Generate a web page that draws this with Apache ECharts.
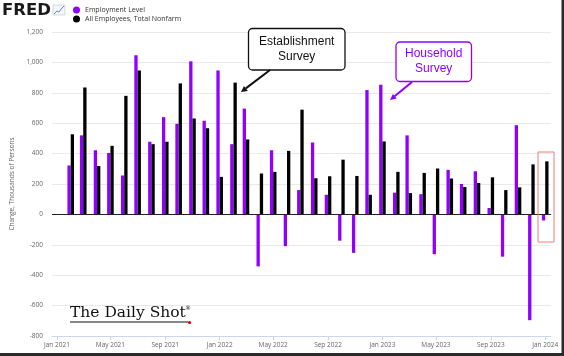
<!DOCTYPE html>
<html><head><meta charset="utf-8">
<script src="https://cdn.jsdelivr.net/npm/echarts@6/dist/echarts.min.js"></script>
<style>html,body{margin:0;padding:0;background:#fff}#c{width:564px;height:356px}</style>
</head><body><div id="c"></div>
<script>
const months = ['2021-02','2021-03','2021-04','2021-05','2021-06','2021-07','2021-08','2021-09','2021-10','2021-11','2021-12',
  '2022-01','2022-02','2022-03','2022-04','2022-05','2022-06','2022-07','2022-08','2022-09','2022-10','2022-11','2022-12',
  '2023-01','2023-02','2023-03','2023-04','2023-05','2023-06','2023-07','2023-08','2023-09','2023-10','2023-11','2023-12',
  '2024-01'];
const employmentLevel = [322,520,422,404,256,1047,478,640,596,1007,616,947,462,696,-342,422,-209,160,473,129,-173,-253,818,853,143,520,133,-262,293,200,284,42,-278,587,-696,-40];
const totalNonfarm = [527,835,318,451,780,947,462,478,862,631,567,247,867,493,269,280,418,689,238,251,360,253,129,480,280,140,273,302,236,180,207,244,160,178,329,349];
const tickMonths = ['2021-01','2021-05','2021-09','2022-01','2022-05','2022-09','2023-01','2023-05','2023-09','2024-01'];
const monthNames = ['Jan','Feb','Mar','Apr','May','Jun','Jul','Aug','Sep','Oct','Nov','Dec'];

const toTs = s => { const p = s.split('-').map(Number); return Date.UTC(p[0], p[1]-1, p[2] || 1); };
const tickVals = tickMonths.map(m => toTs(m));
const purple = '#8f00ff';
const font = '"Open Sans", sans-serif';

const chart = echarts.init(document.getElementById('c'), null, {renderer: 'canvas'});
chart.setOption({
  animation: false,
  backgroundColor: '#fff',
  textStyle: {fontFamily: font},
  grid: {left: 52, right: 13, top: 32, bottom: 20, containLabel: false},
  legend: {
    orient: 'vertical', left: 73, top: 6, padding: 0, itemWidth: 7, itemHeight: 7, itemGap: 1,
    icon: 'circle',
    textStyle: {fontSize: 7, color: '#333', fontFamily: font, lineHeight: 8},
    data: ['Employment Level', 'All Employees, Total Nonfarm']
  },
  xAxis: {
    type: 'value',
    min: toTs('2020-12-21'), max: toTs('2024-01-14'),
    axisLine: {show: true, onZero: false, lineStyle: {color: '#ccd6eb', width: 1}},
    axisTick: {show: true, customValues: tickVals, length: 4, lineStyle: {color: '#ccd6eb'}},
    axisLabel: {
      customValues: tickVals, fontSize: 6.5, color: '#666', margin: 6, fontFamily: font,
      formatter: v => { const d = new Date(v); return monthNames[d.getUTCMonth()] + ' ' + d.getUTCFullYear(); }
    },
    splitLine: {show: false}
  },
  yAxis: {
    type: 'value', min: -800, max: 1200, interval: 200,
    name: 'Change, Thousands of Persons', nameLocation: 'middle', nameGap: 36,
    nameTextStyle: {fontSize: 6.5, color: '#666', fontFamily: font},
    axisLine: {show: false}, axisTick: {show: false},
    axisLabel: {fontSize: 6.5, color: '#666', margin: 9, fontFamily: font,
      formatter: v => v.toLocaleString('en-US')},
    splitLine: {lineStyle: {color: '#e9e9e9', width: 1}}
  },
  series: [
    {
      name: 'Employment Level', type: 'bar', barWidth: 3.3, barGap: '0%',
      itemStyle: {color: purple},
      data: months.map((m, i) => [toTs(m), employmentLevel[i]])
    },
    {
      name: 'All Employees, Total Nonfarm', type: 'bar', barWidth: 3.3, barGap: '0%',
      itemStyle: {color: '#000'},
      data: months.map((m, i) => [toTs(m), totalNonfarm[i]]),
      markLine: {silent: true, symbol: 'none', label: {show: false},
        lineStyle: {color: '#222', width: 1, type: 'solid'}, data: [{yAxis: 0}]}
    }
  ],
  graphic: [
    {type: 'text', left: 2, top: 2, style: {text: 'FRED', font: '900 16.5px "DejaVu Sans"', fill: '#1a1a1a'}},
    {type: 'rect', shape: {x: 53, y: 5, width: 12, height: 10}, style: {fill: '#f2f5fa', stroke: '#b8c4d6', lineWidth: 0.6}},
    {type: 'polyline', shape: {points: [[54,14],[57,11],[59,12],[62,8],[64,6]]}, style: {stroke: '#6a8bbf', lineWidth: 1, fill: null}},
    {type: 'rect', shape: {x: 248.5, y: 28.5, width: 96.5, height: 41.5, r: 4}, style: {fill: '#fff', stroke: '#111', lineWidth: 1.3}, z: 100},
    {type: 'text', x: 296.7, y: 42, style: {text: 'Establishment', font: '12px "Liberation Sans"', fill: '#111', align: 'center', verticalAlign: 'middle'}, z: 101},
    {type: 'text', x: 296.7, y: 57, style: {text: 'Survey', font: '12px "Liberation Sans"', fill: '#111', align: 'center', verticalAlign: 'middle'}, z: 101},
    {type: 'line', shape: {x1: 270, y1: 70, x2: 245.8, y2: 88.4}, style: {stroke: '#111', lineWidth: 2}, z: 100},
    {type: 'polygon', shape: {points: [[241,92],[247.8,90.9],[244.0,85.9]]}, style: {fill: '#111'}, z: 100},
    {type: 'rect', shape: {x: 396, y: 42, width: 75.5, height: 39.5, r: 4}, style: {fill: '#fff', stroke: purple, lineWidth: 1.3}, z: 100},
    {type: 'text', x: 433.7, y: 54, style: {text: 'Household', font: '12px "Liberation Sans"', fill: purple, align: 'center', verticalAlign: 'middle'}, z: 101},
    {type: 'text', x: 433.7, y: 69, style: {text: 'Survey', font: '12px "Liberation Sans"', fill: purple, align: 'center', verticalAlign: 'middle'}, z: 101},
    {type: 'line', shape: {x1: 412, y1: 82, x2: 394.6, y2: 96.2}, style: {stroke: purple, lineWidth: 2}, z: 100},
    {type: 'polygon', shape: {points: [[390,100],[396.7,98.6],[392.9,93.9]]}, style: {fill: purple}, z: 100},
    {type: 'rect', shape: {x: 538, y: 152, width: 16, height: 90}, style: {fill: null, stroke: '#f07a7a', lineWidth: 1}, z: 100},
    {type: 'text', x: 70, y: 312.5, style: {text: 'The Daily Shot', font: '15.5px "DejaVu Serif"', fill: '#111', verticalAlign: 'middle'}, z: 100},
    {type: 'text', x: 185, y: 308, style: {text: '®', font: '6px "DejaVu Serif"', fill: '#111', verticalAlign: 'middle'}, z: 100},
    {type: 'line', shape: {x1: 70, y1: 322, x2: 188, y2: 322}, style: {stroke: '#111', lineWidth: 1}, z: 100},
    {type: 'circle', shape: {cx: 189.5, cy: 322.5, r: 1.6}, style: {fill: '#e00000'}, z: 100},
    {type: 'rect', shape: {x: 561.5, y: 0, width: 3, height: 356}, style: {fill: '#2b2b2b'}, z: 100},
    {type: 'rect', shape: {x: 0, y: 353, width: 564, height: 3}, style: {fill: '#2b2b2b'}, z: 100}
  ]
});
</script></body></html>
